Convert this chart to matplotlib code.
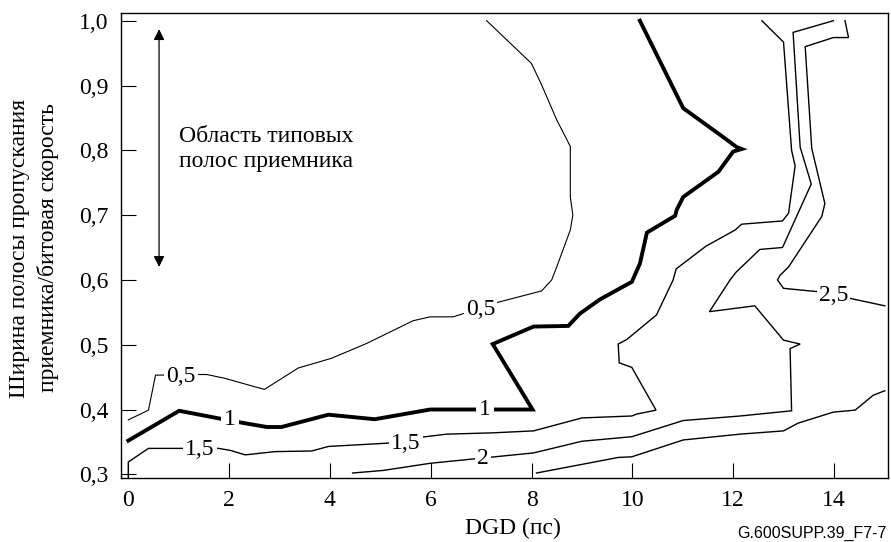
import matplotlib
matplotlib.use("Agg")
import matplotlib.pyplot as plt

plt.rcParams['font.family'] = ['Liberation Serif', 'DejaVu Serif']

# ---- data ----
c05_x = [0.0, 0.40, 0.54, 1.36, 1.56, 1.92, 2.70, 3.37, 4.03, 4.73, 5.65, 5.99, 6.45, 7.31,
         8.20, 8.40, 8.49, 8.77, 8.82, 8.77, 8.77, 8.50, 8.20, 8.00, 7.11]
c05_y = [0.384, 0.399, 0.453, 0.454, 0.454, 0.448, 0.431, 0.464, 0.479, 0.502, 0.537, 0.543, 0.543, 0.565,
         0.583, 0.600, 0.618, 0.677, 0.700, 0.728, 0.806, 0.847, 0.901, 0.934, 1.0]

c10_x = [0.0, 1.01, 2.15, 2.75, 3.04, 3.97, 4.89, 5.99, 8.02, 7.23, 8.04, 8.73, 8.96, 9.36, 9.99,
         10.15, 10.29, 10.85, 10.88, 11.01, 11.71, 12.00, 12.17, 12.07, 11.74, 11.01, 10.15]
c10_y = [0.352, 0.398, 0.381, 0.373, 0.373, 0.392, 0.385, 0.400, 0.400, 0.501, 0.528, 0.529, 0.548, 0.570, 0.597,
         0.625, 0.673, 0.699, 0.708, 0.728, 0.767, 0.798, 0.802, 0.805, 0.824, 0.865, 1.0]

c15_x = [0.0, 0.0, 0.40, 1.79, 2.02, 2.32, 2.91, 3.64, 3.97, 5.13, 5.79, 6.32, 7.24, 8.04, 9.0, 9.99,
         10.09, 10.47, 9.99, 9.74, 9.72, 9.89, 10.48, 10.81, 10.87, 11.46, 12.04, 12.17, 12.98, 13.10,
         13.23, 13.16, 13.0, 12.57]
c15_y = [0.295, 0.319, 0.340, 0.340, 0.337, 0.330, 0.335, 0.336, 0.343, 0.348, 0.357, 0.362, 0.364, 0.367, 0.387, 0.390,
         0.393, 0.399, 0.465, 0.472, 0.501, 0.508, 0.546, 0.600, 0.617, 0.652, 0.677, 0.686, 0.691, 0.703,
         0.776, 0.800, 0.967, 1.0]

c20_x = [4.45, 5.06, 5.99, 8.04, 9.0, 9.99, 11.01, 12.14, 13.16, 13.13, 13.33, 13.0, 12.43, 11.53,
         11.94, 12.06, 12.53, 12.98, 13.55, 13.33, 13.19, 13.99]
c20_y = [0.302, 0.306, 0.317, 0.333, 0.351, 0.358, 0.383, 0.390, 0.398, 0.494, 0.501, 0.507, 0.560, 0.551,
         0.600, 0.612, 0.647, 0.650, 0.748, 0.805, 0.982, 1.0]

c25a_x = [14.22, 14.29, 13.99, 13.43, 13.56, 13.82, 13.76, 13.10, 12.93, 12.88, 13.0, 13.66, 14.29, 15.01]
c25a_y = [1.0, 0.974, 0.974, 0.960, 0.803, 0.718, 0.698, 0.620, 0.607, 0.600, 0.587, 0.582, 0.572, 0.560]

c25b_x = [8.10, 9.72, 9.99, 11.01, 12.14, 13.0, 13.29, 13.99, 14.42, 14.78, 15.01]
c25b_y = [0.302, 0.326, 0.327, 0.353, 0.362, 0.367, 0.379, 0.396, 0.399, 0.422, 0.429]

label_text = ["0,5", "0,5", "1", "1", "1,5", "1,5", "2", "2,5"]
label_x = [1.05, 6.99, 2.02, 7.08, 1.42, 5.51, 7.03, 13.99]
label_y = [0.451, 0.555, 0.385, 0.400, 0.338, 0.347, 0.325, 0.576]

x_ticks = [0, 2, 4, 6, 8, 10, 12, 14]
y_ticks = [0.3, 0.4, 0.5, 0.6, 0.7, 0.8, 0.9, 1.0]
y_ticklabels = ["0,3", "0,4", "0,5", "0,6", "0,7", "0,8", "0,9", "1,0"]

FS = 17

# ---- figure ----
fig = plt.figure(figsize=(8.91, 5.42), dpi=100)
ax = fig.add_axes([121 / 891, 1 - 478 / 542, 767 / 891, 465 / 542])

thin = dict(color='black', lw=1.0, solid_joinstyle='miter')
ax.plot(c05_x, c05_y, color='black', lw=0.8)
ax.plot(c10_x, c10_y, color='black', lw=2.8, solid_joinstyle='miter')
ax.plot(c15_x, c15_y, **thin)
ax.plot(c20_x, c20_y, **thin)
ax.plot(c25a_x, c25a_y, **thin)
ax.plot(c25b_x, c25b_y, **thin)

for t, x, y in zip(label_text, label_x, label_y):
    pad = 2.0 if t == "1" else 1.5
    ax.text(x, y, t, ha='center', va='center', fontsize=FS,
            bbox=dict(facecolor='white', edgecolor='none', pad=pad), zorder=5)

ax.annotate('', xy=(0.61, 0.987), xytext=(0.61, 0.620),
            arrowprops=dict(arrowstyle='<|-|>', color='black', lw=0.9, mutation_scale=16,
                            shrinkA=0, shrinkB=0))
ax.text(1.0, 0.802, "Область типовых\nполос приемника", ha='left', va='center',
        fontsize=FS, linespacing=1.2)

ax.set_xlim(-0.145, 15.073)
ax.set_ylim(0.2943, 1.0119)
ax.set_xticks(x_ticks)
ax.set_xticklabels([str(v) for v in x_ticks])
ax.set_yticks(y_ticks)
ax.set_yticklabels(y_ticklabels)
ax.tick_params(direction='in', length=11, width=0.8, labelsize=FS, top=False, right=False)
ax.tick_params(axis='x', pad=9)
ax.tick_params(axis='y', pad=9)
for s in ax.spines.values():
    s.set_linewidth(1.0)

ax.set_xlabel("DGD (пс)", fontsize=FS)
ax.xaxis.set_label_coords((513 - 121) / 767, (478 - 528) / 465)
ax.xaxis.label.set_va('center')
ax.set_ylabel("Ширина полосы пропускания\nприемника/битовая скорость", fontsize=FS, linespacing=1.4)
ax.yaxis.set_label_coords((34 - 121) / 767, (478 - 248) / 465)
ax.yaxis.label.set_va('center')

fig.text(887 / 891, 1 - 533 / 542, "G.600SUPP.39_F7-7", ha='right', va='center',
         fontsize=11.5, family='Liberation Sans')

fig.savefig("out.png", dpi=100)
